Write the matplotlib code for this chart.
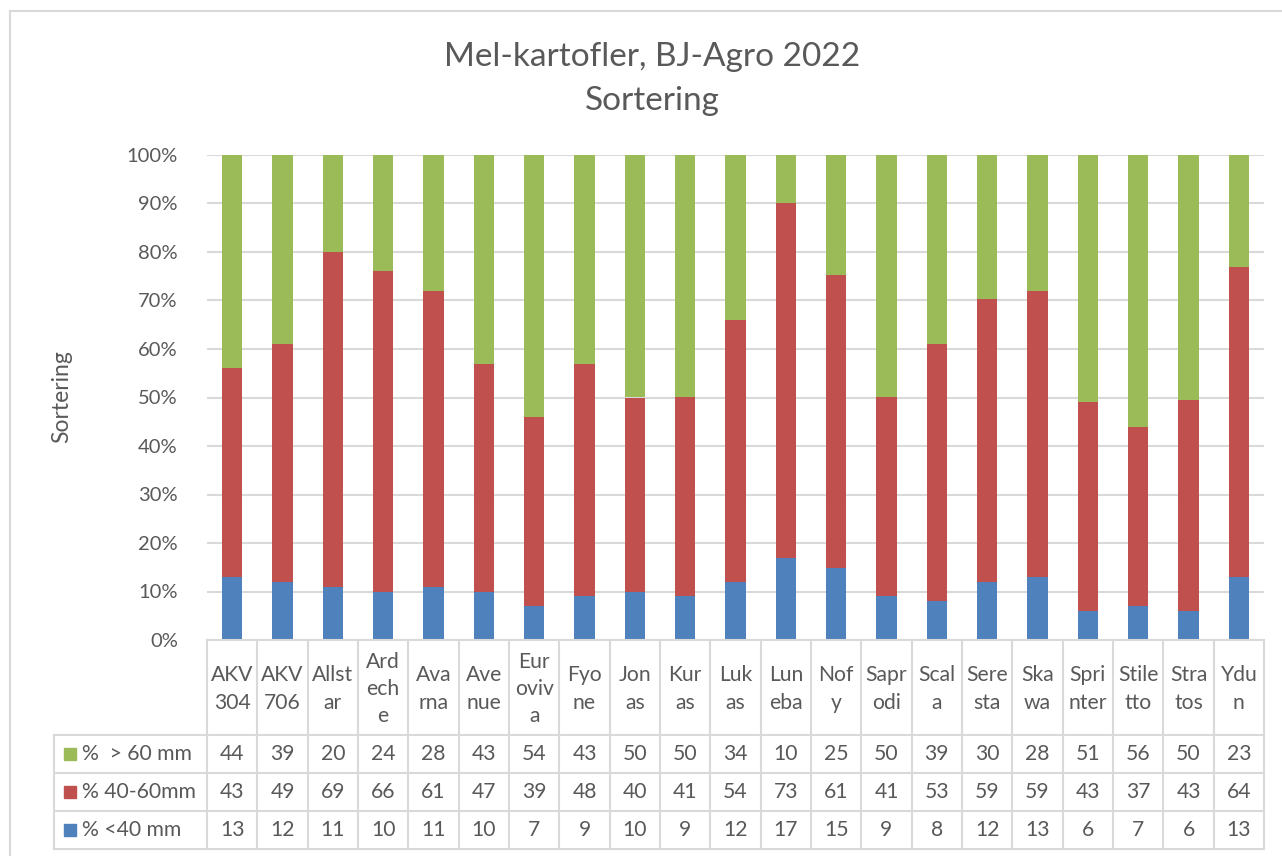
import matplotlib
matplotlib.use("Agg")
import matplotlib.pyplot as plt
from matplotlib.lines import Line2D
from matplotlib.patches import Rectangle
from matplotlib.transforms import blended_transform_factory
import numpy as np

plt.rcParams['font.family'] = ['Lato', 'DejaVu Sans']

categories = ["AKV\n304", "AKV\n706", "Allst\nar", "Ard\nech\ne", "Ava\nrna", "Ave\nnue",
              "Eur\noviv\na", "Fyo\nne", "Jon\nas", "Kur\nas", "Luk\nas", "Lun\neba",
              "Nof\ny", "Sapr\nodi", "Scal\na", "Sere\nsta", "Ska\nwa", "Spri\nnter",
              "Stile\ntto", "Stra\ntos", "Ydu\nn"]
small = [13, 12, 11, 10, 11, 10, 7, 9, 10, 9, 12, 17, 15, 9, 8, 12, 13, 6, 7, 6, 13]
medium = [43, 49, 69, 66, 61, 47, 39, 48, 40, 41, 54, 73, 61, 41, 53, 59, 59, 43, 37, 43, 64]
large = [44, 39, 20, 24, 28, 43, 54, 43, 50, 50, 34, 10, 25, 50, 39, 30, 28, 51, 56, 50, 23]
series_names = ["% <40 mm", "% 40-60mm", "%  > 60 mm"]
colors = ["#4F81BD", "#C0504D", "#9BBB59"]
title_lines = ["Mel-kartofler, BJ-Agro 2022", "Sortering"]
ylabel = "Sortering"

W, H = 1282, 856
fig = plt.figure(figsize=(W / 100, H / 100), dpi=100)

def fx(x):
    return x / W

def fy(y):
    return 1 - y / H

TXT = "#595959"
FS = 15.2

left, right, top, bottom = 207, 1264, 155, 640
ax = fig.add_axes([fx(left), fy(bottom), fx(right) - fx(left), fy(top) - fy(bottom)])

n = len(categories)
x = np.arange(n)
data = [small, medium, large]
totals = np.array(small) + np.array(medium) + np.array(large)
base = np.zeros(n)
for vals, c, name in zip(data, colors, series_names):
    frac = np.array(vals) / totals * 100
    ax.bar(x, frac, bottom=base, width=0.4, color=c, label=name, zorder=3)
    base += frac

ax.set_xlim(-0.5, n - 0.5)
ax.set_ylim(0, 100)
ax.set_yticks(np.arange(0, 101, 10))
ax.set_yticklabels([f"{v}%" for v in range(0, 101, 10)], fontsize=14.5, color=TXT)
ax.tick_params(axis='y', length=0, pad=21)
ax.set_xticks([])
for s in ax.spines.values():
    s.set_visible(False)
ax.grid(axis='y', color="#D9D9D9", linewidth=1.5, zorder=0)
ax.set_axisbelow(True)

fig.text(fx(62), fy(397), ylabel, rotation=90, ha='center', va='center',
         fontsize=16.5, color=TXT)

# title
fig.text(fx(652), fy(57), title_lines[0], ha='center', va='center', fontsize=24, color=TXT)
fig.text(fx(652), fy(101), title_lines[1], ha='center', va='center', fontsize=24, color=TXT)

# chart area border
gc = "#D9D9D9"
fig.add_artist(Line2D([fx(10), fx(10)], [fy(11), 0], color=gc, lw=1.5, transform=fig.transFigure))
fig.add_artist(Line2D([fx(10), 1], [fy(11), fy(11)], color=gc, lw=1.5, transform=fig.transFigure))

# data table
tb = blended_transform_factory(ax.transData, fig.transFigure)
row_lines = [640, 735, 773, 811, 849]
fig.add_artist(Line2D([-0.5, n - 0.5], [fy(640), fy(640)], color=gc, lw=1.5, transform=tb))
for yl in row_lines[1:]:
    fig.add_artist(Line2D([fx(54), fx(right)], [fy(yl), fy(yl)], color=gc, lw=1.5,
                          transform=fig.transFigure))
for i in range(n + 1):
    fig.add_artist(Line2D([i - 0.5, i - 0.5], [fy(640), fy(849)], color=gc, lw=1.5, transform=tb))
fig.add_artist(Line2D([fx(54), fx(54)], [fy(735), fy(849)], color=gc, lw=1.5,
                      transform=fig.transFigure))

# header labels
for i, cat in enumerate(categories):
    fig.text(i, fy(689), cat, transform=tb, ha='center', va='center', fontsize=FS,
             color=TXT, linespacing=1.45)

# rows: top to bottom > 60, 40-60, <40
row_order = [2, 1, 0]
row_centers = [754, 792, 830]
for r, yc in zip(row_order, row_centers):
    fig.add_artist(Rectangle((fx(64), fy(yc) - 6 / H), 12 / W, 12 / H, color=colors[r],
                             transform=fig.transFigure))
    fig.text(fx(82), fy(yc), series_names[r], ha='left', va='center', fontsize=FS,
             color=TXT)
    for i, v in enumerate(data[r]):
        fig.text(i, fy(yc), str(v), transform=tb, ha='center', va='center', fontsize=FS,
                 color=TXT)

fig.savefig("out.png", dpi=100)
